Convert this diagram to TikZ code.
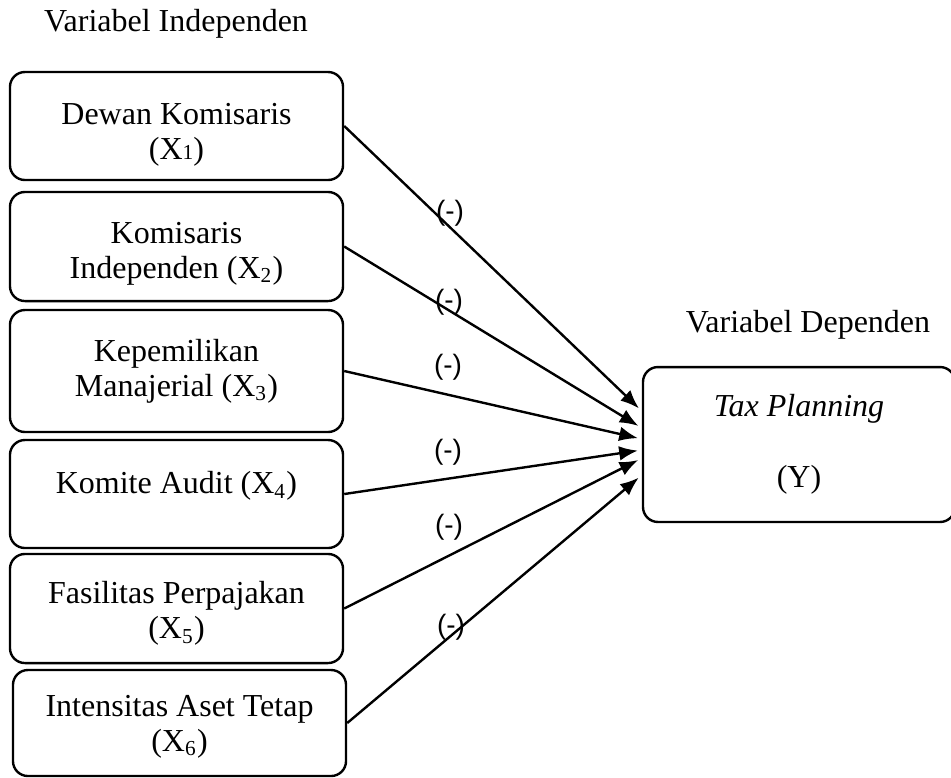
\documentclass[tikz,border=0pt]{standalone}
\usepackage{fontspec}
\setmainfont{Liberation Serif}
\newfontfamily\signfont{Liberation Sans}
\usetikzlibrary{
  arrows.meta,
  positioning,
}
\tikzset{
  varbox/.style = {
      rectangle,
      rounded corners=5.6pt,
      draw=black,
      line width=0.9pt,
      minimum width=124.9pt,
      minimum height=#1,
      align=center,
      inner sep=0pt,
      font=\fontsize{12}{13}\selectfont,
    },
  varbox/.default = 40.5pt,
  heading/.style = {
      font=\fontsize{12}{13}\selectfont,
      inner sep=0pt,
    },
  sign/.style = {
      font=\signfont\fontsize{10.5}{12}\selectfont,
      inner sep=0pt,
    },
  effect/.style = {
      -{Latex[length=7pt, width=5.5pt]},
      line width=0.9pt,
      shorten >=1.5pt,
    },
}

\begin{document}
\begin{tikzpicture}[x=0.375pt, y=-0.375pt]
    \useasboundingbox (0,0) rectangle (951,777);

    \node[heading] (indep) at (176,24)  {Variabel Independen};
    \node[heading] (deptitle) at (808,325) {Variabel Dependen};

    % independent variables
    \node[varbox]         (x1) at (176.5,126)   {\rule{0pt}{14.75pt}Dewan Komisaris\\(X{\footnotesize 1})};
    \node[varbox=40.9pt]  (x2) at (176.5,246.5) {\rule{0pt}{13.25pt}Komisaris\\Independen (X\textsubscript{2})};
    \node[varbox=45.75pt] (x3) at (176.5,371)   {Kepemilikan\\Manajerial (X\textsubscript{3})};
    \node[varbox]         (x4) at (176.5,494)   {Komite Audit (X\textsubscript{4})\\[-8pt]\strut};
    \node[varbox=40.9pt]  (x5) at (176.5,608.5) {\rule{0pt}{12pt}Fasilitas Perpajakan\\(X\textsubscript{5})};
    \node[varbox=39.75pt] (x6) at (179.5,723)   {\rule{0pt}{10.6pt}Intensitas Aset Tetap\\(X\textsubscript{6})};

    % dependent variable
    \node[varbox=58.1pt, minimum width=117pt] (y) at (799,444.5) {\textit{Tax Planning}\\[13.5pt](Y)};

    \draw[effect] (x1.east) -- (y.168.6);
    \draw[effect] (x2.east) -- (y.174);
    \draw[effect] (x3.east) -- (y.178.3);
    \draw[effect] (x4.east) -- (y.182.8);
    \draw[effect] (x5.east) -- (y.185.7);
    \draw[effect] (x6.east) -- (y.191.4);

    \node[sign] (s1) at (450,213) {(-)};
    \node[sign] (s2) at (449,302) {(-)};
    \node[sign] (s3) at (448,367) {(-)};
    \node[sign] (s4) at (448,452) {(-)};
    \node[sign] (s5) at (449,527) {(-)};
    \node[sign] (s6) at (451,627) {(-)};
  \end{tikzpicture}
\end{document}
